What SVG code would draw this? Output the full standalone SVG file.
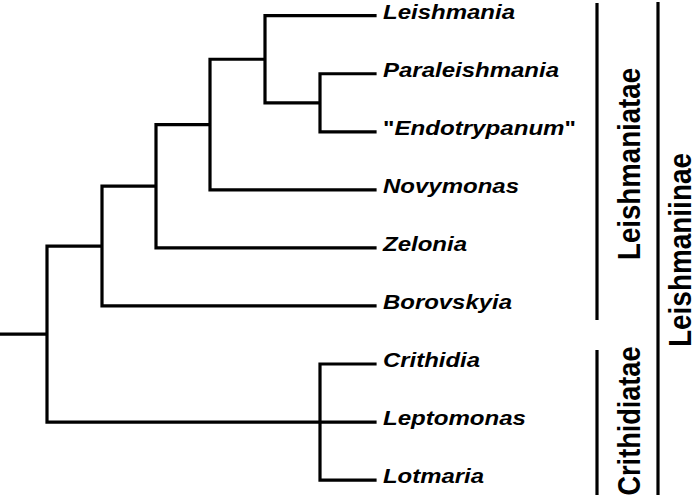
<svg xmlns="http://www.w3.org/2000/svg" width="698" height="499" viewBox="0 0 698 499">
<style>
.br{fill:none;stroke:#000;stroke-width:3.2;stroke-linecap:square;stroke-linejoin:miter}
.bar{fill:none;stroke:#000;stroke-width:3.2}
.lf{font-family:"Liberation Sans",Arial,sans-serif;font-weight:bold;font-style:italic;font-size:21px;fill:#000}
.q{font-style:normal}
.cl{font-family:"Liberation Sans",Arial,sans-serif;font-weight:bold;font-size:27.5px;fill:#000;text-anchor:middle}
</style>
<rect width="698" height="499" fill="#fff"/>
<g id="connectors">
<path class="br" d="M1,334.1H47 M47,246.1V422.05 M47,246.1H102 M102,186.2V305.95 M102,305.95H375 M102,186.2H156 M156,124.55V247.9 M156,247.9H375 M156,124.55H210 M210,59.25V189.85 M210,189.85H375 M210,59.25H265 M265,15.7V102.8 M265,15.7H375 M265,102.8H320 M320,73.75V131.8 M320,73.75H375 M320,131.8H375 M47,422.05H375 M320,364V480.1 M320,364H375 M320,480.1H375"/>
</g>
<g id="node-leishmania"><text class="lf" x="383" y="18.7" textLength="132" lengthAdjust="spacingAndGlyphs">Leishmania</text></g>
<g id="node-paraleishmania"><text class="lf" x="383" y="76.75" textLength="176" lengthAdjust="spacingAndGlyphs">Paraleishmania</text></g>
<g id="node-endotrypanum"><text class="lf" x="383" y="134.8" textLength="193" lengthAdjust="spacingAndGlyphs"><tspan class="q">"</tspan>Endotrypanum<tspan class="q">"</tspan></text></g>
<g id="node-novymonas"><text class="lf" x="383" y="192.85" textLength="136" lengthAdjust="spacingAndGlyphs">Novymonas</text></g>
<g id="node-zelonia"><text class="lf" x="383" y="250.9" textLength="84" lengthAdjust="spacingAndGlyphs">Zelonia</text></g>
<g id="node-borovskyia"><text class="lf" x="383" y="308.95" textLength="129" lengthAdjust="spacingAndGlyphs">Borovskyia</text></g>
<g id="node-crithidia"><text class="lf" x="383" y="367" textLength="97" lengthAdjust="spacingAndGlyphs">Crithidia</text></g>
<g id="node-leptomonas"><text class="lf" x="383" y="425" textLength="143" lengthAdjust="spacingAndGlyphs">Leptomonas</text></g>
<g id="node-lotmaria"><text class="lf" x="383" y="483" textLength="101" lengthAdjust="spacingAndGlyphs">Lotmaria</text></g>
<g id="clade-leishmaniatae">
<line class="bar" x1="597" y1="3" x2="597" y2="320"/>
<text class="cl" transform="translate(640,164) scale(1.143,1) rotate(-90)" textLength="192" lengthAdjust="spacingAndGlyphs">Leishmaniatae</text>
</g>
<g id="clade-crithidiatae">
<line class="bar" x1="597" y1="350" x2="597" y2="495"/>
<text class="cl" transform="translate(640,421) scale(1.143,1) rotate(-90)" textLength="149" lengthAdjust="spacingAndGlyphs">Crithidiatae</text>
</g>
<g id="clade-leishmaniinae">
<line class="bar" x1="658" y1="2" x2="658" y2="495"/>
<text class="cl" transform="translate(691,250) scale(1.143,1) rotate(-90)" textLength="194" lengthAdjust="spacingAndGlyphs">Leishmaniinae</text>
</g>
</svg>
